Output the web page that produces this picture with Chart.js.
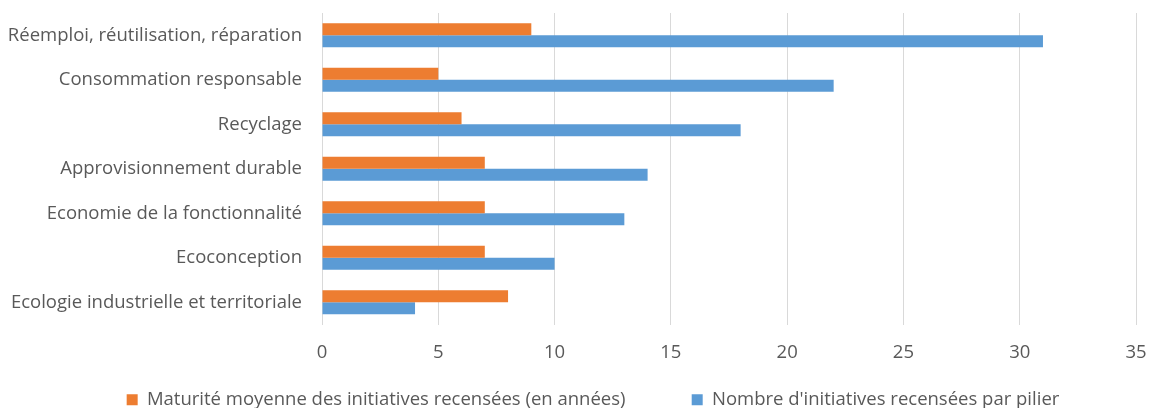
<!DOCTYPE html>
<html>
<head>
<meta charset="utf-8">
<script src="https://cdn.jsdelivr.net/npm/chart.js@4.4.1/dist/chart.umd.min.js"></script>
<style>
  html, body { margin: 0; padding: 0; background: #fff; }
  #wrap { width: 1149px; height: 408px; }
</style>
</head>
<body>
<div id="wrap"><canvas id="chart"></canvas></div>
<script>
// Categories, top to bottom
const categories = [
  "Réemploi, réutilisation, réparation",
  "Consommation responsable",
  "Recyclage",
  "Approvisionnement durable",
  "Economie de la fonctionnalité",
  "Ecoconception",
  "Ecologie industrielle et territoriale",
];
const maturite = [9, 5, 6, 7, 7, 7, 8];
const nombre = [31, 22, 18, 14, 13, 10, 4];
const xTicks = [0, 5, 10, 15, 20, 25, 30, 35];

const labelFont = { family: "'Open Sans', sans-serif", size: 18.5 };
const grey = "#595959";

// nudge the legend a bit right and down, as in the Excel original
const legendShift = {
  id: "legendShift",
  afterLayout(chart) {
    chart.legend.left += 25;
    chart.legend.right += 25;
    chart.legend.top += 2;
    chart.legend.bottom += 2;
  },
};

new Chart(document.getElementById("chart"), {
  type: "bar",
  data: {
    labels: categories,
    datasets: [
      {
        label: "Maturité moyenne des initiatives recensées (en années)",
        data: maturite,
        backgroundColor: "#ED7D31",
        barPercentage: 1,
        categoryPercentage: 0.54,
      },
      {
        label: "Nombre d'initiatives recensées par pilier",
        data: nombre,
        backgroundColor: "#5B9BD5",
        barPercentage: 1,
        categoryPercentage: 0.54,
      },
    ],
  },
  options: {
    indexAxis: "y",
    responsive: true,
    maintainAspectRatio: false,
    animation: false,
    layout: { padding: { top: 13, right: 13, left: 0, bottom: -9 } },
    scales: {
      x: {
        min: 0,
        max: 35,
        afterBuildTicks: (scale) => {
          scale.ticks = xTicks.map((v) => ({ value: v }));
        },
        afterFit: (scale) => {
          scale.height = 44;
          scale.paddingLeft = 0;
          scale.paddingRight = 0;
        },
        grid: { color: "#d9d9d9", drawTicks: false },
        border: { display: false },
        ticks: { color: grey, font: labelFont, padding: 17 },
      },
      y: {
        afterFit: (scale) => {
          scale.width = 322;
          scale.paddingTop = 0;
          scale.paddingBottom = 0;
        },
        grid: { display: false, drawTicks: false },
        border: { display: false },
        ticks: { color: grey, font: labelFont, padding: 20 },
      },
    },
    plugins: {
      legend: {
        position: "bottom",
        labels: {
          color: grey,
          font: labelFont,
          boxWidth: 11,
          boxHeight: 11,
          padding: 20,
          // extra room after the first entry
          generateLabels: (chart) =>
            Chart.defaults.plugins.legend.labels
              .generateLabels(chart)
              .map((item, i) => {
                if (i === 0) item.text = item.text + "\u2003\u2003\u2002";
                return item;
              }),
        },
      },
      tooltip: { enabled: false },
    },
  },
  plugins: [legendShift],
});
</script>
</body>
</html>
